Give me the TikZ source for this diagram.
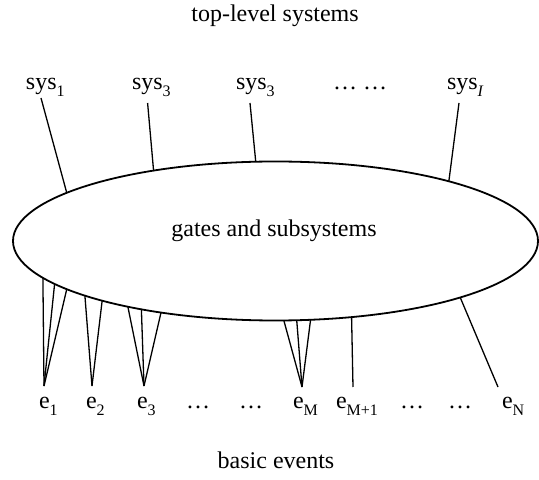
\documentclass[tikz,border=0pt]{standalone}
\usepackage{fontspec}
\setmainfont{Liberation Serif}
\usetikzlibrary{shapes.geometric}
\newcommand\sbs[1]{\raisebox{-0.28em}{\fontsize{16}{16}\selectfont #1}}
\begin{document}
\begin{tikzpicture}[x=1pt,y=1pt,
  txt/.style={inner sep=0pt,outer sep=0pt,font=\fontsize{24}{28}\selectfont},
  conn/.style={line width=1.3pt,black},
  blob/.style={ellipse,draw,line width=1.8pt,minimum width=525pt,minimum height=159pt,inner sep=0pt,outer sep=0pt}]
\useasboundingbox (0,0) rectangle (539,480);
% titles
\node[txt,anchor=base] (top) at (275,458) {top-level systems};
\node[txt,anchor=base] (bottom) at (276,12) {basic events};
% ellipse
\node[blob] (el) at (275.5,239) {};
\node[txt,anchor=base] (ellab) at (274,243) {gates and subsystems};
% top-level system labels
\node[txt,anchor=base west] (s1) at (26,390) {sys\sbs{1}};
\node[txt,anchor=base west] (s2) at (132,390) {sys\sbs{3}};
\node[txt,anchor=base west] (s3) at (236,390) {sys\sbs{3}};
\node[txt,anchor=base west] (sd) at (333,390) {\dots{} \dots};
\node[txt,anchor=base west] (sI) at (447,390) {sys\sbs{\textit{I}}};
% free ends of the top connectors
\coordinate (t1) at (41,382);
\coordinate (t2) at (147.6,377);
\coordinate (t3) at (250,377);
\coordinate (tI) at (459,377);
\draw[conn] (t1) -- (el.167.3);
\draw[conn] (t2) -- (el.150.0);
\draw[conn] (t3) -- (el.104.5);
\draw[conn] (tI) -- (el.19.9);
% basic event labels
\node[txt,anchor=base west] (e1) at (39,71) {e\sbs{1}};
\node[txt,anchor=base west] (e2) at (86,71) {e\sbs{2}};
\node[txt,anchor=base west] (e3) at (137,71) {e\sbs{3}};
\node[txt,anchor=base] (d1) at (198,71) {\dots};
\node[txt,anchor=base] (d2) at (251,71) {\dots};
\node[txt,anchor=base west] (eM) at (293,71) {e\sbs{M}};
\node[txt,anchor=base west] (eM1) at (336,71) {e\sbs{M+1}};
\node[txt,anchor=base] (d3) at (412,71) {\dots};
\node[txt,anchor=base] (d4) at (460,71) {\dots};
\node[txt,anchor=base west] (eN) at (502,71) {e\sbs{N}};
% free ends of the bottom connectors
\coordinate (v1) at (44,94);
\coordinate (v2) at (92,94);
\coordinate (v3) at (144,94);
\coordinate (vM) at (302,93);
\coordinate (vM1) at (353,93);
\coordinate (vN) at (498,93);
\draw[conn] (v1) -- (el.189.0);
\draw[conn] (v1) -- (el.191.4);
\draw[conn] (v1) -- (el.193.4);
\draw[conn] (v2) -- (el.196.7);
\draw[conn] (v2) -- (el.199.0);
\draw[conn] (v3) -- (el.204.7);
\draw[conn] (v3) -- (el.207.4);
\draw[conn] (v3) -- (el.212.3);
\draw[conn] (vM) -- (el.276.1);
\draw[conn] (vM) -- (el.285.9);
\draw[conn] (vM) -- (el.294.9);
\draw[conn] (vM1) -- (el.315.6);
\draw[conn] (vN) -- (el.343.6);
\end{tikzpicture}
\end{document}
